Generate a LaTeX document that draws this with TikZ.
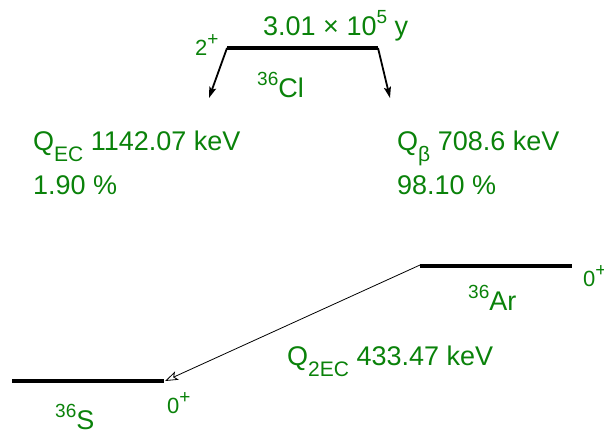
\documentclass[tikz,border=0pt]{standalone}
\usepackage{fontspec}
\setmainfont{Liberation Sans}
\usepackage{tikz}
\usetikzlibrary{arrows.meta}
\definecolor{lblgreen}{RGB}{10,130,10}
\newcommand\upidx[1]{\raisebox{0.42em}{\fontsize{19}{19}\selectfont #1}}
\newcommand\dnidx[1]{\raisebox{-0.42em}{\fontsize{21}{21}\selectfont #1}}

\begin{document}
\begin{tikzpicture}[x=1pt,y=-1pt,>={Stealth[length=11pt,width=7pt,inset=2pt]},line cap=butt,line join=round,
  lbl/.style={font=\fontsize{27}{30}\selectfont,text=lblgreen,inner sep=0,anchor=base west},
  spin/.style={font=\fontsize{22}{24}\selectfont,text=lblgreen,inner sep=0,anchor=base west},
  level/.style={line width=4pt}]
\useasboundingbox (0,0) rectangle (604,432);
% levels
\coordinate (cl-l) at (227,48);  \coordinate (cl-r) at (378,48);
\coordinate (ar-l) at (420,266); \coordinate (ar-r) at (572,266);
\coordinate (s-l) at (12,381);   \coordinate (s-r) at (164,381);
\coordinate (ec-end) at (209,98); \coordinate (beta-end) at (390,98);
\draw[level] (cl-l) -- (cl-r);
\draw[level] (ar-l) -- (ar-r);
\draw[level] (s-l) -- (s-r);
% decays
\draw[->,line width=1.8pt] (cl-l) -- (ec-end);
\draw[->,line width=1.8pt] (cl-r) -- (beta-end);
\draw[-{Stealth[length=13pt,width=9pt,inset=3pt,open]},line width=0.8pt] ([yshift=1pt]ar-l) -- ([xshift=1pt]s-r);
% labels
\node[lbl] (halflife) at (263,35) {3.01 × 10\upidx{5} y};
\node[spin] (cl-spin) at (195,55) {2\upidx{+}};
\node[lbl] (cl-name) at (257,97) {\upidx{36}Cl};
\node[lbl] (ec-q) at (33,150) {Q\dnidx{EC} 1142.07 keV};
\node[lbl] (ec-br) at (33,194) {1.90 \%};
\node[lbl] (beta-q) at (397,150) {Q\dnidx{β} 708.6 keV};
\node[lbl] (beta-br) at (397,194) {98.10 \%};
\node[lbl] (ar-name) at (468,310) {\upidx{36}Ar};
\node[spin] (ar-spin) at (583,286) {0\upidx{+}};
\node[lbl] (dec-q) at (287,365) {Q\dnidx{2EC} 433.47 keV};
\node[lbl] (s-name) at (55,429) {\upidx{36}S};
\node[spin] (s-spin) at (167,413) {0\upidx{+}};
\end{tikzpicture}
\end{document}
